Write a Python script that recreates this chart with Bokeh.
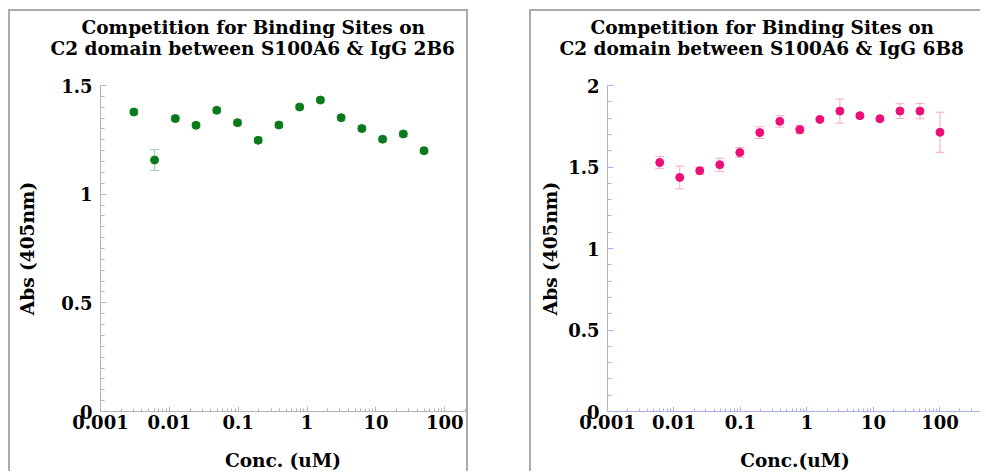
from bokeh.plotting import figure
from bokeh.models import (ColumnDataSource, Range1d, LogTicker, SingleIntervalTicker,
                          CustomJSTickFormatter, Whisker, TeeHead, Title)
from bokeh.layouts import row
from bokeh.embed import file_html
from bokeh.resources import INLINE

# --- IgG 2B6 competition series ---
conc_2b6 = [0.00305, 0.0061, 0.0122, 0.0244, 0.0488, 0.0977, 0.195, 0.39,
            0.78, 1.5625, 3.125, 6.25, 12.5, 25, 50]
abs_2b6 = [1.378, 1.157, 1.348, 1.317, 1.386, 1.329, 1.248, 1.318,
           1.401, 1.433, 1.352, 1.302, 1.253, 1.277, 1.200]
err_2b6 = [0.012, 0.048, 0.012, 0.012, 0.012, 0.012, 0.012, 0.012,
           0.012, 0.012, 0.012, 0.012, 0.012, 0.012, 0.012]

# --- IgG 6B8 competition series ---
conc_6b8 = [0.0061, 0.0122, 0.0244, 0.0488, 0.0977, 0.195, 0.39, 0.78,
            1.5625, 3.125, 6.25, 12.5, 25, 50, 100]
abs_6b8 = [1.528, 1.436, 1.477, 1.514, 1.589, 1.711, 1.780, 1.729,
           1.792, 1.843, 1.815, 1.796, 1.843, 1.843, 1.713]
err_6b8 = [0.036, 0.070, 0.022, 0.040, 0.030, 0.036, 0.035, 0.025,
           0.010, 0.074, 0.010, 0.010, 0.045, 0.047, 0.123]

title_2b6 = ["Competition for Binding Sites on", "C2 domain between S100A6 & IgG 2B6"]
title_6b8 = ["Competition for Binding Sites on", "C2 domain between S100A6 & IgG 6B8"]

FONT = "DejaVu Serif"


def make_panel(conc, absorb, err, title_lines, title_offsets, xlabel, y_end, y_minor,
               x_end, width, height, border_left, border_right,
               dot_color, err_color, axis_color, ylabel_standoff,
               panel_styles, margin):
    p = figure(width=width, height=height, x_axis_type="log",
               x_range=Range1d(0.001, x_end), y_range=Range1d(0, y_end),
               output_backend="svg", toolbar_location=None,
               min_border_left=border_left, min_border_right=border_right,
               min_border_top=74, min_border_bottom=60,
               background_fill_color="white", border_fill_color="white")
    p.outline_line_color = None
    p.grid.visible = False
    p.styles = panel_styles
    p.margin = margin

    src = ColumnDataSource(dict(
        x=conc, y=absorb,
        upper=[a + e for a, e in zip(absorb, err)],
        lower=[a - e for a, e in zip(absorb, err)],
    ))
    w = Whisker(base="x", upper="upper", lower="lower", source=src,
                dimension="height", line_color=err_color, line_width=1,
                upper_head=TeeHead(size=9, line_color=err_color, line_width=1),
                lower_head=TeeHead(size=9, line_color=err_color, line_width=1))
    p.add_layout(w)
    p.scatter("x", "y", source=src, size=8, fill_color=dot_color,
              line_color=dot_color)

    # axes
    p.xaxis.ticker = LogTicker(mantissas=[1], num_minor_ticks=10)
    p.xaxis.formatter = CustomJSTickFormatter(code="return String(+tick.toPrecision(3));")
    p.yaxis.ticker = SingleIntervalTicker(interval=0.5, num_minor_ticks=y_minor)
    p.yaxis.formatter = CustomJSTickFormatter(code="return String(+tick.toFixed(2));")

    for ax in (p.xaxis[0], p.yaxis[0]):
        ax.axis_line_color = axis_color
        ax.major_tick_line_color = axis_color
        ax.minor_tick_line_color = axis_color
        ax.major_tick_out = 0
        ax.minor_tick_out = 0
        ax.major_label_text_font = FONT
        ax.major_label_text_font_style = "bold"
        ax.major_label_text_font_size = "18px"
        ax.major_label_text_color = "black"
        ax.axis_label_text_font = FONT
        ax.axis_label_text_font_style = "bold"
        ax.axis_label_text_font_size = "18.5px"
        ax.axis_label_text_color = "black"
    p.xaxis.major_tick_in = 5
    p.xaxis.minor_tick_in = 3
    p.yaxis.major_tick_in = 6
    p.yaxis.minor_tick_in = 4
    p.xaxis.major_label_standoff = 3
    p.yaxis.major_label_standoff = 8
    p.xaxis.axis_label = xlabel
    p.yaxis.axis_label = "Abs (405nm)"
    p.xaxis.axis_label_standoff = 18
    p.yaxis.axis_label_standoff = ylabel_standoff

    # two-line heading, stacked upward from the plot area:
    # a blank gap first, then the second line, then the first line
    line1, line2 = title_lines
    off1, off2 = title_offsets
    heading = dict(text_font=FONT, text_font_style="bold",
                   text_font_size="18.5px", text_color="black")
    p.add_layout(Title(text=" ", standoff=2, **heading), "above")
    p.add_layout(Title(text=line2, align="left", offset=off2, standoff=0,
                       vertical_align="top", **heading), "above")
    p.add_layout(Title(text=line1, align="left", offset=off1, standoff=0,
                       vertical_align="bottom", **heading), "above")
    return p


border = "2px solid #ababab"

p1 = make_panel(conc_2b6, abs_2b6, err_2b6, title_2b6, (-19, -50), "Conc. (uM)",
                1.5, 10, 200, 460, 462, 90, 5, "#0b7a1c", "#9ccf9f", "#b4b4b4", 20,
                {"border-top": border, "border-left": border, "border-right": border},
                (9, 0, 0, 8))
p2 = make_panel(conc_6b8, abs_6b8, err_6b8, title_6b8, (-17, -48), "Conc.(uM)",
                2, 5, 436, 451, 462, 76, 0, "#ec0f78", "#f6a8cc", "#a9b0ee", 4,
                {"border-top": border, "border-left": border},
                (9, 0, 0, 61))

layout = row(p1, p2)
open("out.html", "w").write(file_html(layout, INLINE))
